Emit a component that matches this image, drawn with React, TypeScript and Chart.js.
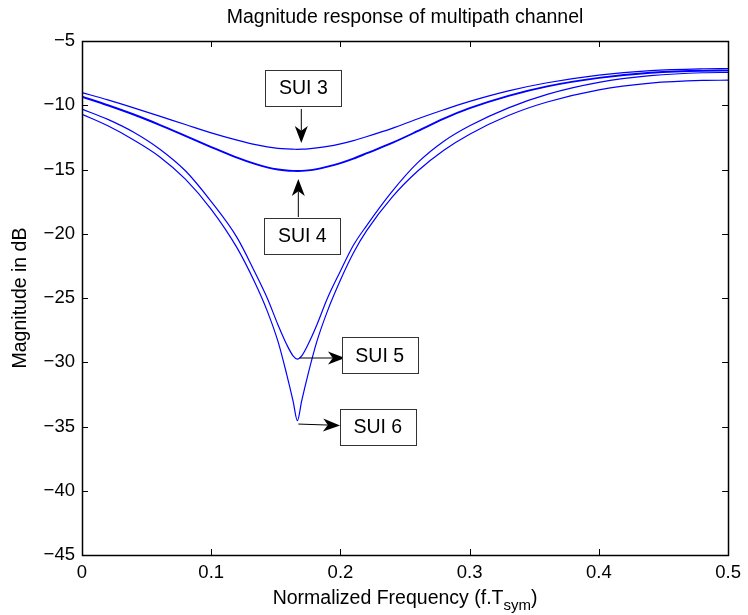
import React, { useEffect, useRef } from 'react';
import { Chart, registerables } from 'chart.js';

Chart.register(...registerables);

const FONT = '"Liberation Sans", Arial, Helvetica, sans-serif';

// Normalized frequency samples
const freq = [0, 0.02, 0.04, 0.06, 0.08, 0.1, 0.12, 0.1333, 0.1433, 0.1517, 0.1583, 0.1633, 0.1667, 0.17, 0.175, 0.1817, 0.19, 0.2, 0.21, 0.22, 0.24, 0.26, 0.28, 0.3, 0.33, 0.36, 0.4, 0.44, 0.48, 0.5];

// Magnitude (dB) for each SUI channel model
const sui3 = [-9.02, -9.58, -10.2, -10.85, -11.5, -12.15, -12.72, -13.05, -13.24, -13.35, -13.4, -13.42, -13.43, -13.42, -13.39, -13.32, -13.2, -13.0, -12.75, -12.45, -11.8, -11.05, -10.35, -9.7, -8.88, -8.25, -7.65, -7.3, -7.16, -7.14];
const sui4 = [-9.33, -10.0, -10.72, -11.52, -12.38, -13.25, -14.08, -14.55, -14.83, -15.0, -15.08, -15.11, -15.12, -15.11, -15.07, -14.97, -14.78, -14.5, -14.15, -13.75, -12.93, -12.0, -11.04, -10.23, -9.27, -8.53, -7.87, -7.47, -7.31, -7.3];
const sui5 = [-10.3, -11.1, -12.1, -13.4, -15.1, -17.5, -20.3, -22.9, -25.0, -27.1, -28.6, -29.5, -29.75, -29.5, -28.6, -27.1, -25.0, -22.9, -20.9, -19.4, -16.7, -14.45, -12.8, -11.6, -10.2, -9.15, -8.22, -7.7, -7.47, -7.45];
const sui6 = [-10.7, -11.6, -12.7, -14.0, -15.75, -18.1, -21.1, -23.7, -26.0, -28.4, -30.9, -33.0, -34.55, -33.0, -30.9, -28.4, -26.0, -23.6, -21.5, -19.8, -17.15, -15.1, -13.5, -12.25, -10.8, -9.75, -8.8, -8.28, -8.07, -8.05];

// Axis ticks
const xTicks = [0, 0.1, 0.2, 0.3, 0.4, 0.5];
const yTicks = [-45, -40, -35, -30, -25, -20, -15, -10, -5];

// Annotations (data coordinates)
const annLabels = ['SUI 3', 'SUI 4', 'SUI 5', 'SUI 6'];
const annBoxX = [0.1713, 0.1705, 0.2304, 0.2289];
const annBoxY = [-8.66, -20.18, -29.47, -35.04];
const annTailX = [0.1697, 0.1674, 0.1682, 0.1674];
const annTailY = [-10.29, -18.7, -29.67, -34.81];
const annTipX = [0.1697, 0.1674, 0.2035, 0.1997];
const annTipY = [-12.94, -15.74, -29.67, -34.92];

const titleText = 'Magnitude response of multipath channel';
const xLabelMain = 'Normalized Frequency (f.T';
const xLabelSub = 'sym';
const yLabelText = 'Magnitude in dB';

function drawArrow(ctx: CanvasRenderingContext2D, x1: number, y1: number, x2: number, y2: number) {
  const len = 17;
  const hw = 6.5;
  const a = Math.atan2(y2 - y1, x2 - x1);
  const dx = Math.cos(a), dy = Math.sin(a);
  const px = -dy, py = dx;
  const bx = x2 - len * dx, by = y2 - len * dy;
  const nx = x2 - 0.72 * len * dx, ny = y2 - 0.72 * len * dy;
  ctx.save();
  ctx.strokeStyle = '#000';
  ctx.lineWidth = 1;
  ctx.beginPath();
  ctx.moveTo(x1, y1);
  ctx.lineTo(nx, ny);
  ctx.stroke();
  ctx.fillStyle = '#000';
  ctx.beginPath();
  ctx.moveTo(x2, y2);
  ctx.lineTo(bx + hw * px, by + hw * py);
  ctx.lineTo(nx, ny);
  ctx.lineTo(bx - hw * px, by - hw * py);
  ctx.closePath();
  ctx.fill();
  ctx.restore();
}

const decorPlugin = {
  id: 'decor',
  afterDatasetsDraw(chart: any) {
    const ctx: CanvasRenderingContext2D = chart.ctx;
    const { left, right, top, bottom } = chart.chartArea;
    const xs = chart.scales.x;
    const ys = chart.scales.y;
    ctx.save();
    // inward ticks
    ctx.strokeStyle = '#000';
    ctx.lineWidth = 1;
    const tl = 6;
    ctx.beginPath();
    xTicks.forEach((v) => {
      const x = Math.round(xs.getPixelForValue(v)) + 0.5;
      ctx.moveTo(x, bottom);
      ctx.lineTo(x, bottom - tl);
      ctx.moveTo(x, top);
      ctx.lineTo(x, top + tl);
    });
    yTicks.forEach((v) => {
      const y = Math.round(ys.getPixelForValue(v)) + 0.5;
      ctx.moveTo(left, y);
      ctx.lineTo(left + tl, y);
      ctx.moveTo(right, y);
      ctx.lineTo(right - tl, y);
    });
    ctx.stroke();
    // frame
    ctx.lineWidth = 1.5;
    ctx.strokeRect(Math.round(left) + 0.5, Math.round(top) + 0.5, Math.round(right - left), Math.round(bottom - top));

    // annotations
    for (let i = 0; i < annLabels.length; i++) {
      drawArrow(
        ctx,
        xs.getPixelForValue(annTailX[i]),
        ys.getPixelForValue(annTailY[i]),
        xs.getPixelForValue(annTipX[i]),
        ys.getPixelForValue(annTipY[i])
      );
      const cx = xs.getPixelForValue(annBoxX[i]);
      const cy = ys.getPixelForValue(annBoxY[i]);
      const w = 76, h = 36;
      const bx = Math.round(cx - w / 2) + 0.5;
      const by = Math.round(cy - h / 2) + 0.5;
      ctx.fillStyle = '#fff';
      ctx.fillRect(bx, by, w, h);
      ctx.strokeStyle = '#333';
      ctx.lineWidth = 1;
      ctx.strokeRect(bx, by, w, h);
      ctx.fillStyle = '#000';
      ctx.font = `19.5px ${FONT}`;
      ctx.textAlign = 'center';
      ctx.textBaseline = 'middle';
      ctx.fillText(annLabels[i], cx, cy + 1);
    }

    // title
    const midX = (left + right) / 2;
    ctx.fillStyle = '#000';
    ctx.font = `19.5px ${FONT}`;
    ctx.textAlign = 'center';
    ctx.textBaseline = 'middle';
    ctx.fillText(titleText, midX, 18);

    // x label with subscript
    const mainFont = `19.5px ${FONT}`;
    const subFont = `15px ${FONT}`;
    ctx.font = mainFont;
    const wMain = ctx.measureText(xLabelMain).width;
    const wClose = ctx.measureText(')').width;
    ctx.font = subFont;
    const wSub = ctx.measureText(xLabelSub).width;
    const total = wMain + wSub + wClose;
    let x0 = midX - total / 2;
    const yBase = 604;
    ctx.textAlign = 'left';
    ctx.textBaseline = 'alphabetic';
    ctx.font = mainFont;
    ctx.fillText(xLabelMain, x0, yBase);
    x0 += wMain;
    ctx.font = subFont;
    ctx.fillText(xLabelSub, x0, yBase + 6);
    x0 += wSub;
    ctx.font = mainFont;
    ctx.fillText(')', x0, yBase);

    // y label
    ctx.save();
    ctx.translate(21, (top + bottom) / 2);
    ctx.rotate(-Math.PI / 2);
    ctx.font = `19.5px ${FONT}`;
    ctx.textAlign = 'center';
    ctx.textBaseline = 'middle';
    ctx.fillText(yLabelText, 0, 0);
    ctx.restore();

    ctx.restore();
  },
};

const series = [
  { label: 'SUI 3', values: sui3, width: 1.2 },
  { label: 'SUI 4', values: sui4, width: 1.9 },
  { label: 'SUI 5', values: sui5, width: 1.2 },
  { label: 'SUI 6', values: sui6, width: 1.2 },
];

export default function App() {
  const ref = useRef<HTMLCanvasElement>(null);
  useEffect(() => {
    if (!ref.current) return;
    const chart = new Chart(ref.current, {
      type: 'line',
      data: {
        datasets: series.map((s) => ({
          label: s.label,
          data: freq.map((f, i) => ({ x: f, y: s.values[i] })),
          borderColor: '#0000ff',
          borderWidth: s.width,
          pointRadius: 0,
          fill: false,
          cubicInterpolationMode: 'monotone' as const,
        })),
      },
      options: {
        responsive: false,
        animation: false,
        devicePixelRatio: 1,
        layout: { padding: { top: 41, right: 15, left: 0, bottom: 0 } },
        plugins: {
          legend: { display: false },
          tooltip: { enabled: false },
          title: { display: false },
        },
        scales: {
          x: {
            type: 'linear',
            min: 0,
            max: 0.5,
            afterBuildTicks: (scale: any) => {
              scale.ticks = xTicks.map((v) => ({ value: v }));
            },
            afterFit: (scale: any) => {
              scale.height = 60;
            },
            ticks: {
              padding: 7,
              color: '#000',
              font: { family: FONT, size: 18.5 },
              maxRotation: 0,
              autoSkip: false,
              callback: (v: any) => String(Math.round(Number(v) * 10) / 10),
            },
            grid: { display: false, drawTicks: false },
            border: { display: false },
          },
          y: {
            type: 'linear',
            min: -45,
            max: -5,
            afterBuildTicks: (scale: any) => {
              scale.ticks = yTicks.map((v) => ({ value: v }));
            },
            afterFit: (scale: any) => {
              scale.width = 82;
            },
            ticks: {
              padding: 7,
              color: '#000',
              font: { family: FONT, size: 18.5 },
              autoSkip: false,
              callback: (v: any) => String(v).replace('-', '\u2212'),
            },
            grid: { display: false, drawTicks: false },
            border: { display: false },
          },
        },
      },
      plugins: [decorPlugin],
    } as any);
    return () => chart.destroy();
  }, []);
  return (
    <div style={{ position: 'absolute', left: 0, top: 0, width: 748, height: 615, background: '#fff' }}>
      <canvas ref={ref} width={748} height={615} style={{ display: 'block', width: 748, height: 615 }} />
    </div>
  );
}
